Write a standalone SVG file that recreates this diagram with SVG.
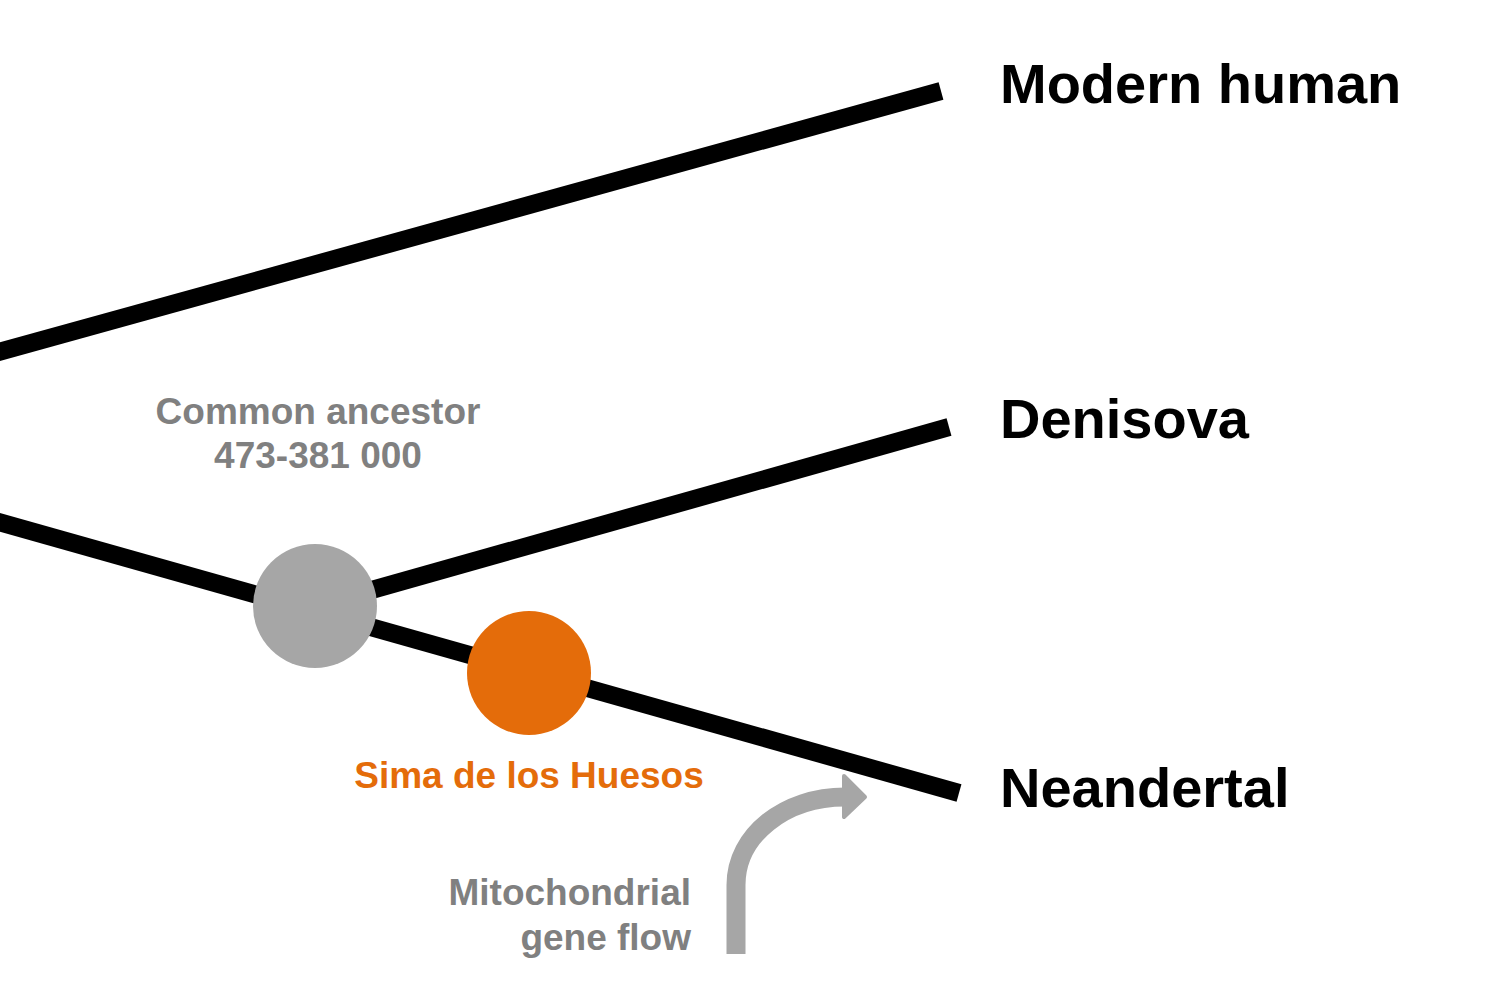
<svg xmlns="http://www.w3.org/2000/svg" width="1500" height="1000" viewBox="0 0 1500 1000">
<style>
.branch{stroke:#000;stroke-width:18;fill:none;stroke-linecap:butt}
.label{font-family:"Liberation Sans",Arial,sans-serif;font-weight:bold}
.taxon{font-size:56px;fill:#000}
.note{font-size:37px;fill:#808080}
</style>
<rect width="1500" height="1000" fill="#fff"/>
<g id="connectors">
<line class="branch" x1="-5" y1="353" x2="941" y2="91"/>
<line class="branch" x1="-5" y1="521" x2="959" y2="793"/>
<line class="branch" x1="315" y1="606" x2="949" y2="427"/>
<g id="gene-flow-arrow">
<path d="M736,954 V885 C736,835 785,797 845,797" stroke="#A6A6A6" stroke-width="19" fill="none" stroke-linecap="butt"/>
<polygon points="844,776 865,797 844,817" fill="#A6A6A6" stroke="#A6A6A6" stroke-width="4" stroke-linejoin="round"/>
</g>
</g>
<g id="common-ancestor">
<circle cx="315" cy="606" r="62" fill="#A6A6A6"/>
<text class="label note" x="318" y="424" text-anchor="middle">Common ancestor</text>
<text class="label note" x="318" y="468" text-anchor="middle">473-381 000</text>
</g>
<g id="sima-de-los-huesos">
<circle cx="529" cy="673" r="62" fill="#E46C0A"/>
<text class="label" x="529" y="788" text-anchor="middle" font-size="37" fill="#E46C0A">Sima de los Huesos</text>
</g>
<g id="modern-human">
<text class="label taxon" x="1000" y="103">Modern human</text>
</g>
<g id="denisova">
<text class="label taxon" x="1000" y="438">Denisova</text>
</g>
<g id="neandertal">
<text class="label taxon" x="1000" y="807">Neandertal</text>
</g>
<g id="gene-flow-label">
<text class="label note" x="691" y="905" text-anchor="end">Mitochondrial</text>
<text class="label note" x="691" y="950" text-anchor="end">gene flow</text>
</g>
</svg>
